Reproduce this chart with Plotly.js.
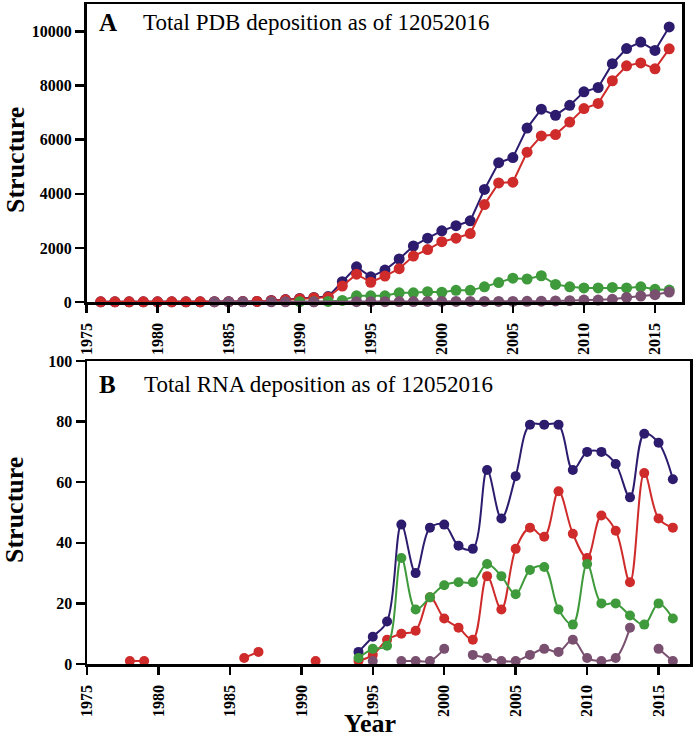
<!DOCTYPE html>
<html>
<head>
<meta charset="utf-8">
<script src="https://cdn.plot.ly/plotly-3.0.1.min.js"></script>
<style>html,body{margin:0;padding:0;background:#fff;}#chart{width:700px;height:740px;}</style>
</head>
<body>
<div id="chart"></div>
<script>
// ---------- Panel A: Total PDB deposition ----------
const yearsA = [1976,1977,1978,1979,1980,1981,1982,1983,1984,1985,1986,1987,1988,1989,1990,1991,1992,1993,1994,1995,1996,1997,1998,1999,2000,2001,2002,2003,2004,2005,2006,2007,2008,2009,2010,2011,2012,2013,2014,2015,2016];
const totalA = [5,5,5,5,5,5,5,5,10,10,15,20,60,90,130,170,200,750,1300,930,1180,1590,2070,2360,2630,2820,3000,4160,5150,5340,6430,7130,6900,7270,7770,7930,8810,9370,9610,9300,10170];
const proteinA = [5,5,5,5,5,5,5,5,10,10,15,20,50,80,120,160,180,590,1030,730,960,1230,1700,1940,2230,2360,2530,3600,4400,4430,5540,6140,6190,6650,7150,7340,8180,8730,8840,8620,9360];
const yearsAg = [1990,1991,1992,1993,1994,1995,1996,1997,1998,1999,2000,2001,2002,2003,2004,2005,2006,2007,2008,2009,2010,2011,2012,2013,2014,2015,2016];
const dnaA = [10,10,20,60,230,230,230,340,340,380,360,430,430,560,720,880,850,970,650,560,520,520,540,520,560,470,440];
const yearsAp = [1984,1985,1986,1988,1989,1991,1994,1995,1996,1997,1998,1999,2000,2001,2002,2003,2004,2005,2006,2007,2008,2009,2010,2011,2012,2013,2014,2015,2016];
const rnaA = [5,5,5,5,5,5,10,10,10,15,15,20,20,20,20,20,20,20,25,30,40,50,70,70,100,170,220,270,370];

// ---------- Panel B: Total RNA deposition ----------
const yearsB = [1978,1979,1980,1981,1982,1983,1984,1985,1986,1987,1988,1989,1990,1991,1992,1993,1994,1995,1996,1997,1998,1999,2000,2001,2002,2003,2004,2005,2006,2007,2008,2009,2010,2011,2012,2013,2014,2015,2016];
const totalB = [null,null,null,null,null,null,null,null,null,null,null,null,null,null,null,null,4,9,14,46,30,45,46,39,38,64,48,62,79,79,79,64,70,70,66,55,76,73,61];
const proteinB = [1,1,null,null,null,null,null,null,2,4,null,null,null,1,null,null,1,3,8,10,11,22,15,12,8,29,18,38,45,42,57,43,35,49,44,27,63,48,45];
const dnaB = [null,null,null,null,null,null,null,null,null,null,null,null,null,null,null,null,2,5,6,35,18,22,26,27,27,33,29,23,31,32,18,13,33,20,20,16,13,20,15];
const otherB = [null,null,null,null,null,null,null,null,null,null,null,null,null,null,null,null,null,1,null,1,1,1,5,null,3,2,1,1,3,5,4,8,2,1,2,12,null,5,1];

const C_BLUE = '#2d1b6e', C_RED = '#cf2b2b', C_GREEN = '#3e9a3b', C_PURP = '#7a5070';
const SERIF = 'Liberation Serif, Times New Roman, serif';

function tr(x, y, color, xa, ya, shape, msize) {
  return {x: x, y: y, type: 'scatter', mode: 'lines+markers', xaxis: xa, yaxis: ya,
    connectgaps: false, cliponaxis: false, showlegend: false, hoverinfo: 'skip',
    line: {color: color, width: 2, shape: shape, smoothing: 1},
    marker: {color: color, size: msize}};
}

const data = [
  tr(yearsA, totalA, C_BLUE, 'x', 'y', 'linear', 11),
  tr(yearsA, proteinA, C_RED, 'x', 'y', 'linear', 11),
  tr(yearsAg, dnaA, C_GREEN, 'x', 'y', 'linear', 11),
  tr(yearsAp, rnaA, C_PURP, 'x', 'y', 'linear', 11),
  tr(yearsB, totalB, C_BLUE, 'x2', 'y2', 'spline', 10),
  tr(yearsB, proteinB, C_RED, 'x2', 'y2', 'spline', 10),
  tr(yearsB, dnaB, C_GREEN, 'x2', 'y2', 'spline', 10),
  tr(yearsB, otherB, C_PURP, 'x2', 'y2', 'spline', 10)
];

const px = v => v / 700, py = v => 1 - v / 740;
const tickFont = {family: SERIF, size: 16, color: '#000', weight: 'bold'};
function xax(domain, range, anchor) {
  return {domain: domain, range: range, anchor: anchor, tickvals: [1975,1980,1985,1990,1995,2000,2005,2010,2015],
    ticktext: ['<b>1975</b>','<b>1980</b>','<b>1985</b>','<b>1990</b>','<b>1995</b>','<b>2000</b>','<b>2005</b>','<b>2010</b>','<b>2015</b>'],
    tickangle: -90, ticks: 'outside', ticklen: 8, tickwidth: 2.5, tickcolor: '#000', ticklabelstandoff: 4,
    showline: true, linewidth: 2.5, linecolor: '#000', mirror: true, showgrid: false, zeroline: false,
    tickfont: tickFont};
}
function yax(domain, range, anchor, vals) {
  return {domain: domain, range: range, anchor: anchor, tickvals: vals, ticktext: vals.map(v => '<b>' + v + '</b>'),
    ticks: 'outside', ticklen: 9, tickwidth: 2.5, tickcolor: '#000',
    showline: true, linewidth: 2.5, linecolor: '#000', mirror: true, showgrid: false, zeroline: false,
    tickfont: tickFont};
}

const layout = {
  width: 700, height: 740, margin: {l: 0, r: 0, t: 0, b: 0},
  paper_bgcolor: '#fff', plot_bgcolor: '#fff', showlegend: false,
  xaxis: xax([px(86.5), px(682)], [1975, 2016.9], 'y'),
  yaxis: yax([py(302), py(4)], [0, 11017], 'x', [0,2000,4000,6000,8000,10000]),
  xaxis2: xax([px(87), px(690)], [1975, 2017.2], 'y2'),
  yaxis2: yax([py(664), py(361)], [0, 100], 'x2', [0,20,40,60,80,100]),
  annotations: [
    {text: '<b>A</b>', x: px(97), y: py(22), xref: 'paper', yref: 'paper', xanchor: 'left', yanchor: 'middle', showarrow: false, font: {family: SERIF, size: 25, color: '#000'}},
    {text: 'Total PDB deposition as of 12052016', x: px(141), y: py(22), xref: 'paper', yref: 'paper', xanchor: 'left', yanchor: 'middle', showarrow: false, font: {family: SERIF, size: 23, color: '#000'}},
    {text: '<b>B</b>', x: px(97), y: py(384), xref: 'paper', yref: 'paper', xanchor: 'left', yanchor: 'middle', showarrow: false, font: {family: SERIF, size: 25, color: '#000'}},
    {text: 'Total RNA deposition as of 12052016', x: px(142), y: py(384), xref: 'paper', yref: 'paper', xanchor: 'left', yanchor: 'middle', showarrow: false, font: {family: SERIF, size: 23, color: '#000'}},
    {text: '<b>Structure</b>', textangle: -90, x: px(15), y: py(160), xref: 'paper', yref: 'paper', xanchor: 'center', yanchor: 'middle', showarrow: false, font: {family: SERIF, size: 26, color: '#000'}},
    {text: '<b>Structure</b>', textangle: -90, x: px(15), y: py(510), xref: 'paper', yref: 'paper', xanchor: 'center', yanchor: 'middle', showarrow: false, font: {family: SERIF, size: 26, color: '#000'}},
    {text: '<b>Year</b>', x: px(370), y: py(723), xref: 'paper', yref: 'paper', xanchor: 'center', yanchor: 'middle', showarrow: false, font: {family: SERIF, size: 26, color: '#000'}}
  ]
};

Plotly.newPlot('chart', data, layout, {displayModeBar: false, staticPlot: true});
</script>
</body>
</html>
